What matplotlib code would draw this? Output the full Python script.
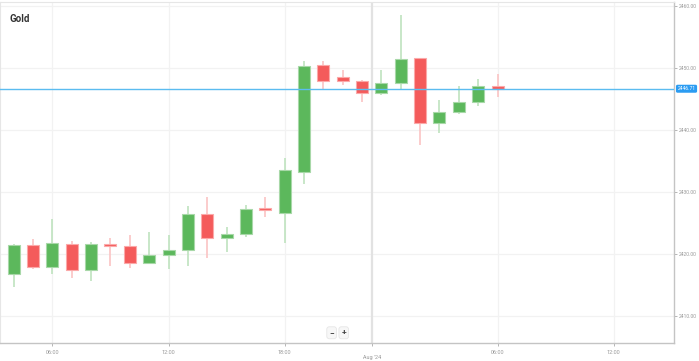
import matplotlib.pyplot as plt
import numpy as np

# hourly Gold candles, one slot per candle
opens = [2416.79, 2421.43, 2417.97, 2421.69, 2417.44, 2421.64, 2421.36, 2418.62, 2419.91, 2420.67,
         2426.44, 2422.66, 2423.26, 2427.35, 2426.65, 2433.33, 2450.46, 2448.59, 2447.94, 2446.00,
         2447.71, 2451.66, 2441.25, 2443.03, 2444.55, 2447.13]
highs = [2421.59, 2422.45, 2425.68, 2422.17, 2422.07, 2422.56, 2423.14, 2423.53, 2423.14, 2427.78,
         2429.24, 2424.44, 2427.90, 2429.24, 2435.59, 2451.22, 2451.22, 2449.72, 2448.20, 2449.77,
         2458.66, 2451.66, 2444.92, 2447.18, 2448.26, 2449.12]
lows = [2414.74, 2417.60, 2416.79, 2416.19, 2415.71, 2418.20, 2417.87, 2418.45, 2417.60, 2418.13,
        2419.49, 2420.39, 2422.77, 2426.05, 2421.85, 2431.39, 2446.49, 2447.39, 2444.64, 2445.68,
        2446.49, 2437.59, 2439.63, 2442.70, 2443.95, 2445.40]
closes = [2421.43, 2417.97, 2421.75, 2417.44, 2421.69, 2421.32, 2418.62, 2419.91, 2420.67, 2426.44,
          2422.56, 2423.30, 2427.35, 2427.09, 2433.55, 2450.37, 2447.94, 2447.94, 2446.00, 2447.62,
          2451.50, 2441.25, 2443.03, 2444.55, 2447.13, 2446.71]
last_price = 2446.71

xtick_pos = [2, 8, 14, 25, 31]
xtick_labels = ["06:00", "12:00", "18:00", "06:00", "12:00"]
day_pos = 18.5
day_label = "Aug '24"
ytick_vals = [2410, 2420, 2430, 2440, 2450, 2460]

green = "#5cb85c"
red = "#f45b5b"

plt.rcParams['font.family'] = ['Roboto', 'DejaVu Sans']

fig = plt.figure(figsize=(6.99, 3.61), dpi=100)
ax = fig.add_axes([0.0, 18 / 361, 674 / 699, 341 / 361])

x = np.arange(len(opens))
o = np.array(opens)
c = np.array(closes)
up = c >= o
cols = np.where(up, green, red)
wick_cols = np.where(up, "#bfe3bf", "#fbc4c4")

ax.vlines(x, lows, highs, colors=wick_cols, linewidth=1.2, zorder=3)
bottoms = np.minimum(o, c)
heights = np.maximum(np.abs(c - o), 0.35)
ax.bar(x, heights, bottom=bottoms, width=0.62, color=cols,
       edgecolor=np.where(up, "#a8d8a8", "#fba9a9"), linewidth=0.8, zorder=4)

# current price line
ax.axhline(last_price, color="#5bbcf0", linewidth=1.0, zorder=5)

ax.set_xlim(-0.71, 34.12)
ax.set_ylim(2405.7, 2460.7)

# grid
for v in ytick_vals:
    ax.axhline(v, color="#f2f2f2", linewidth=0.9, zorder=0)
for p in xtick_pos:
    ax.axvline(p, color="#f2f2f2", linewidth=0.9, zorder=0)
ax.axvline(day_pos, color="#e2e2e2", linewidth=1.6, zorder=0)

ax.set_xticks(xtick_pos + [day_pos])
ax.set_xticklabels(xtick_labels + [""], fontsize=4, color="#999999")
ax.tick_params(axis="x", length=2, width=0.6, color="#aaaaaa", pad=3)
ax.text(day_pos, -0.035, day_label, transform=ax.get_xaxis_transform(),
        ha="center", va="top", fontsize=4, color="#999999")

ax.yaxis.tick_right()
ax.set_yticks(ytick_vals)
ax.set_yticklabels([f"{v:.2f}" for v in ytick_vals], fontsize=3.6, color="#999999")
ax.tick_params(axis="y", length=2, width=0.6, color="#aaaaaa", pad=1.5)

for s in ["left", "top"]:
    ax.spines[s].set_color("#e6e6e6")
    ax.spines[s].set_linewidth(0.8)
for s in ["right", "bottom"]:
    ax.spines[s].set_color("#c4c4c4")
    ax.spines[s].set_linewidth(1.0)

# price tag
ax.annotate(f"{last_price:.2f}", xy=(1.0, last_price), xycoords=ax.get_yaxis_transform(),
            xytext=(2.5, 0), textcoords="offset points", ha="left", va="center",
            fontsize=3.6, color="white",
            bbox=dict(boxstyle="round,pad=0.3", fc="#2b9cf2", ec="none"), annotation_clip=False)

ax.text(0.014, 0.965, "Gold", transform=ax.transAxes, fontsize=7, fontweight="bold",
        color="#333333", ha="left", va="top")

# zoom buttons
ax.text(0.492, 0.03, "\u2212", transform=ax.transAxes, fontsize=6, fontweight="bold",
        color="#444444", ha="center", va="center",
        bbox=dict(boxstyle="round,pad=0.3", fc="#f7f7f7", ec="#e6e6e6", lw=0.6))
ax.text(0.51, 0.03, "+", transform=ax.transAxes, fontsize=6, fontweight="bold",
        color="#444444", ha="center", va="center",
        bbox=dict(boxstyle="round,pad=0.3", fc="#f7f7f7", ec="#e6e6e6", lw=0.6))

fig.savefig("out.png", dpi=100)
